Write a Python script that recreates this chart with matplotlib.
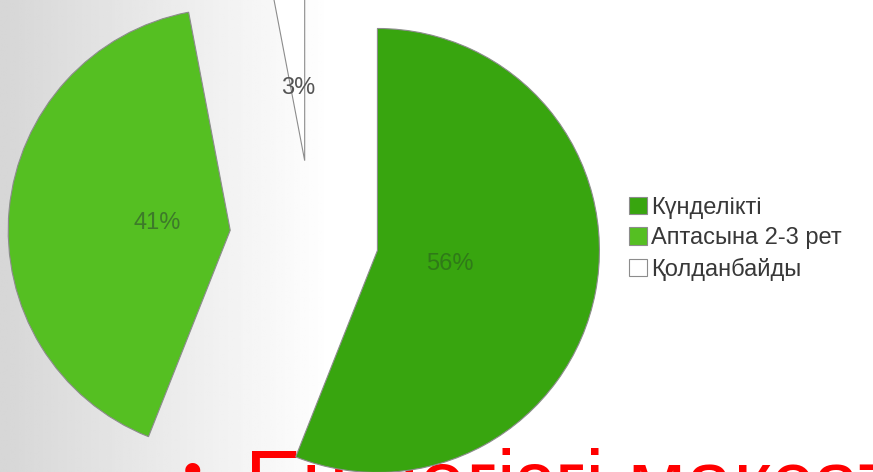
import numpy as np
import matplotlib
matplotlib.use('Agg')
import matplotlib.pyplot as plt

plt.rcParams['font.family'] = ['Liberation Sans', 'DejaVu Sans']

# Деректер
labels = ['Күнделікті', 'Аптасына 2-3 рет', 'Қолданбайды']
values = [56, 41, 3]
colors = ['#38A50F', '#55BF22', '#FFFFFF']
pct_colors = ['#2F7A18', '#3D7A2A', '#555555']
title_text = 'Ең негізгі мақсат'

W, H = 873, 472
R = 222
# шеттен ығысу (радиус үлесі)
explode = [f * R for f in (0.30, 0.37, 0.35)]

fig = plt.figure(figsize=(W / 100, H / 100), dpi=100)
ax = fig.add_axes([0, 0, 1, 1])

# Фон: сұр-ақ градиент
xs = np.linspace(0, 1, 400)
grad = np.clip(0.84 + 0.16 * xs / 0.38, 0, 1)
bg = np.tile(grad, (50, 1))
ax.imshow(bg, cmap='gray', vmin=0, vmax=1, extent=[0, W, 0, H], aspect='auto', zorder=0)

# Қызыл мәтін (диаграмманың астында)
ax.text(183, -17, '•', color='#FF0000', fontsize=40, zorder=1)
ax.text(245, -38, title_text, color='#FF0000', fontsize=61, zorder=1)

wedges, texts, autotexts = ax.pie(
    values, colors=colors, explode=explode, startangle=90, counterclock=False,
    center=(312, 234), radius=R, autopct='%1.0f%%', pctdistance=0.33,
    wedgeprops=dict(edgecolor='#8C8C8C', linewidth=0.8),
    textprops=dict(fontsize=17), frame=True)
for w in wedges:
    w.set_zorder(2)
for t, c in zip(autotexts, pct_colors):
    t.set_color(c)
    t.set_zorder(3)

ax.set_xlim(0, W)
ax.set_ylim(0, H)
ax.set_aspect('equal')
ax.axis('off')

leg = ax.legend(wedges, labels, loc='center left', bbox_to_anchor=(0.696, 0.494),
                frameon=False, fontsize=17, handlelength=0.75, handleheight=0.75,
                handletextpad=0.2, labelspacing=0.35, labelcolor='#383838')

fig.savefig('out.png', dpi=100)
